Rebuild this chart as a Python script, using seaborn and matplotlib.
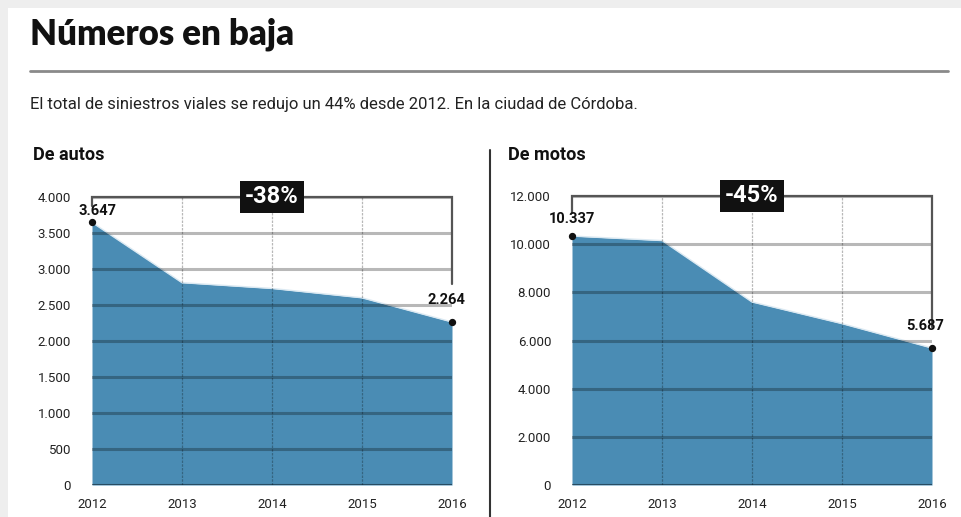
import matplotlib
matplotlib.use("Agg")
import matplotlib.pyplot as plt
import seaborn as sns
import pandas as pd
from matplotlib.patches import Rectangle

# ---- data ----
years = [2012, 2013, 2014, 2015, 2016]
autos = [3647, 2810, 2730, 2600, 2264]
motos = [10337, 10150, 7600, 6700, 5687]
autos_yticks = [0, 500, 1000, 1500, 2000, 2500, 3000, 3500, 4000]
motos_yticks = [0, 2000, 4000, 6000, 8000, 10000, 12000]
autos_pct = "-38%"
motos_pct = "-45%"
title = "Números en baja"
subtitle = "El total de siniestros viales se redujo un 44% desde 2012. En la ciudad de Córdoba."
panel_titles = ["De autos", "De motos"]

sns.set_theme(style="white")
FONT = ["Liberation Sans Narrow", "Roboto", "DejaVu Sans"]
plt.rcParams["font.family"] = FONT

W, H = 962, 517
fig = plt.figure(figsize=(W / 100, H / 100), dpi=100)
fig.patch.set_facecolor("#eeeeee")
fig.add_artist(Rectangle((8 / W, 0), 1, 1 - 8 / H, transform=fig.transFigure,
                         facecolor="white", edgecolor="none", zorder=0))


def px(x, y):
    return x / W, 1 - y / H


FILL = "#4a8cb4"
GRID = (0, 0, 0, 0.28)


def fmt(v):
    return f"{v:,}".replace(",", ".")


def panel(rect, vals, yticks, pct, top_lbl_off, right_line_end, left_line_end,
          lbl_dx_first, lbl_dx_last):
    l, r, b, t = rect
    ax = fig.add_axes([l / W, 1 - b / H, (r - l) / W, (b - t) / H])
    ax.set_facecolor("none")
    df = pd.DataFrame({"year": years, "value": vals})
    ymax = yticks[-1]
    ax.fill_between(df["year"], 0, df["value"], color=FILL, lw=0, zorder=1)
    sns.lineplot(data=df, x="year", y="value", ax=ax, color="#dbe9f2", lw=1.0,
                 zorder=2)
    ax.set_xlim(years[0], years[-1])
    ax.set_ylim(0, ymax)
    # grid
    for yv in yticks[1:]:
        ax.axhline(yv, color=GRID, lw=2.2, zorder=3)
    ax.axhline(0, color=(0, 0, 0, 0.45), lw=1.5, zorder=3)
    for xv in years[1:-1]:
        ax.axvline(xv, color=GRID, lw=0.9, ls=(0, (2, 1)), zorder=3)
    for s in ax.spines.values():
        s.set_visible(False)
    ax.set_xticks(years)
    ax.set_xticklabels([str(y) for y in years])
    ax.set_yticks(yticks)
    ax.set_yticklabels([fmt(v) for v in yticks])
    ax.tick_params(axis="y", length=0, pad=15, labelsize=9.5, labelcolor="#222222")
    ax.tick_params(axis="x", length=0, pad=9, labelsize=9.5, labelcolor="#222222")
    ax.set_xlabel("")
    ax.set_ylabel("")
    # bracket
    ax.plot([years[0], years[0], years[-1], years[-1]],
            [left_line_end, ymax, ymax, right_line_end],
            color="#555555", lw=1.6, clip_on=False, zorder=4,
            solid_joinstyle="miter")
    # end points
    ax.scatter([years[0], years[-1]], [vals[0], vals[-1]], s=18, color="#111111",
               zorder=6, clip_on=False)
    ax.annotate(fmt(vals[0]), (years[0], vals[0]), xytext=(lbl_dx_first, top_lbl_off),
                textcoords="offset points", ha="center", va="bottom",
                fontsize=10.5, fontweight="bold", color="#111111",
                annotation_clip=False, zorder=7)
    ax.annotate(fmt(vals[-1]), (years[-1], vals[-1]), xytext=(lbl_dx_last, 11),
                textcoords="offset points", ha="center", va="bottom",
                fontsize=10.5, fontweight="bold", color="#111111",
                annotation_clip=False, zorder=7)
    ax.text(2014, ymax, pct, ha="center", va="center", fontsize=17,
            fontweight="bold", color="white", zorder=8, clip_on=False,
            bbox=dict(boxstyle="square,pad=0.2", facecolor="#111111",
                      edgecolor="none"))
    return ax


panel((92, 452, 485, 197), autos, autos_yticks, autos_pct, 3,
      2790, 3880, 4, -4)
panel((572, 932, 485, 196), motos, motos_yticks, motos_pct, 7,
      6560, 11300, 0, -5)

# texts
x, y = px(30, 34)
fig.text(x, y, title, fontsize=25, fontweight="heavy", color="#111111",
         va="center", ha="left", family=["Lato", "Roboto", "DejaVu Sans"])
fig.add_artist(plt.Line2D([30 / W, 948 / W], [1 - 71 / H, 1 - 71 / H],
                          transform=fig.transFigure, color="#8a8a8a", lw=2))
x, y = px(30, 104)
fig.text(x, y, subtitle, fontsize=12, color="#222222", va="center", ha="left")
x, y = px(33, 155)
fig.text(x, y, panel_titles[0], fontsize=13, fontweight="bold", color="#111111",
         va="center", ha="left")
x, y = px(508, 155)
fig.text(x, y, panel_titles[1], fontsize=13, fontweight="bold", color="#111111",
         va="center", ha="left")
fig.add_artist(plt.Line2D([490 / W, 490 / W], [1 - 150 / H, 0],
                          transform=fig.transFigure, color="#333333", lw=1.5))

fig.savefig("out.png", dpi=100)
